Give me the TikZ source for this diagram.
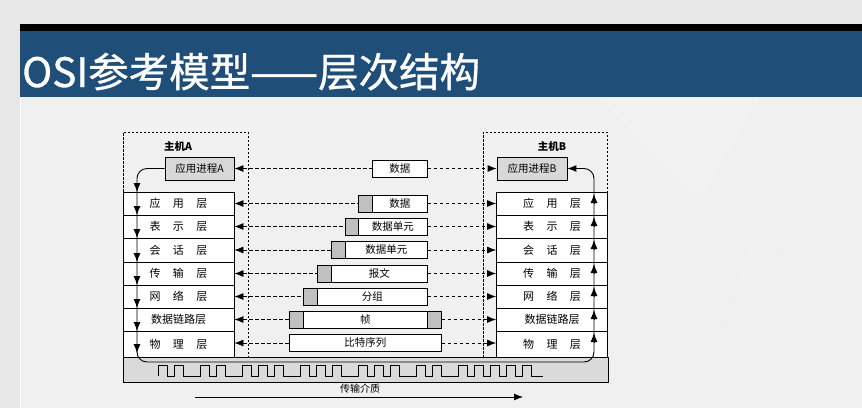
\documentclass[tikz,border=0pt]{standalone}
\usepackage{fontspec}
\setmainfont{Noto Sans CJK SC}
\newfontfamily\titlefont{Noto Sans CJK SC}[FakeBold=0.8]
\usetikzlibrary{arrows.meta}
\definecolor{barblue}{RGB}{31,78,121}
\definecolor{outerbg}{RGB}{231,231,231}
\definecolor{slidebg}{RGB}{240,240,240}
\definecolor{hdrgray}{RGB}{192,192,192}
\definecolor{appgray}{RGB}{216,216,216}
\definecolor{medgray}{RGB}{218,218,218}
\newcommand\lsp{\hspace{12.5pt}}
\begin{document}
\begin{tikzpicture}[x=1pt,y=-1pt,
  >={Latex[length=9pt,width=7pt]},
  lay/.style={draw, line width=0.8pt, fill=white, minimum width=111pt, inner sep=0pt, font=\fontsize{11}{12}\selectfont},
  appbox/.style={draw, line width=0.8pt, fill=appgray, minimum width=69pt, minimum height=23pt, inner sep=0pt, font=\fontsize{10.5}{12}\selectfont},
  hdr/.style={draw, line width=0.8pt, fill=hdrgray, minimum width=14pt, minimum height=17pt, inner sep=0pt, anchor=west},
  pdu/.style={draw, line width=0.8pt, fill=white, minimum height=17pt, inner sep=0pt, anchor=west, font=\fontsize{10.5}{12}\selectfont},
  hostbox/.style={draw, line width=0.8pt, dash pattern=on 2.5pt off 1.5pt, inner sep=0pt},
  dl/.style={line width=0.8pt, dash pattern=on 3.5pt off 2.5pt},
  flow/.style={line width=0.9pt},
  hosttitle/.style={font=\fontsize{10.5}{12}\selectfont\bfseries, inner sep=0pt}
]
\useasboundingbox (0,0) rectangle (862,408);
% background
\fill[outerbg] (0,0) rectangle (862,408);
\fill[black] (20,24) rectangle (862,31);
\fill[barblue] (20,31) rectangle (862,97);
\fill[slidebg] (20,97) rectangle (862,408);
\fill[white, opacity=0.18] (600,97) -- (700,200) -- (760,97) -- cycle;
\fill[white, opacity=0.12] (700,408) -- (760,220) -- (862,408) -- cycle;
\draw[white, line width=1pt] (20.5,97) -- (20.5,408);
% title
\node[anchor=base west, inner sep=0pt, text=white, font=\titlefont\fontsize{40.5}{41}\selectfont] (title) at (22,87) {OSI参考模型——层次结构};

% host frames
\node[hostbox, minimum width=125pt, minimum height=225pt] (hostA) at (185.5,244.5) {};
\node[hostbox, minimum width=124pt, minimum height=225pt] (hostB) at (545,244.5) {};
\node[hosttitle] (tA) at (178,146) {主机A};
\node[hosttitle] (tB) at (552,146) {主机B};

% transmission medium
\node[draw, line width=0.8pt, fill=medgray, minimum width=485pt, minimum height=25pt, inner sep=0pt] (med) at (365.5,369.5) {};

% application processes
\node[appbox] (appA) at (199.5,168.5) {应用进程A};
\node[appbox, minimum width=70pt] (appB) at (532,168.5) {应用进程B};

% layer stacks
\foreach \i/\y/\h/\t in {
  1/203.5/23/{应\lsp 用\lsp 层},
  2/226.5/23/{表\lsp 示\lsp 层},
  3/250/24/{会\lsp 话\lsp 层},
  4/273.5/23/{传\lsp 输\lsp 层},
  5/296.5/23/{网\lsp 络\lsp 层},
  6/319.5/23/{数据链路层},
  7/344/26/{物\lsp 理\lsp 层}} {
  \node[lay, minimum height=\h pt] (rowA\i) at (178.5,\y) {\t};
  \node[lay, minimum height=\h pt] (rowB\i) at (552,\y) {\t};
}

% PDUs
\node[pdu, minimum width=55pt] (d0) at (372,168.5) {数据};
\node[hdr] (h1) at (358,203.5) {};
\node[pdu, minimum width=55pt] (b1) at (372,203.5) {数据};
\node[hdr, minimum width=13pt] (h2) at (345,226.5) {};
\node[pdu, minimum width=69pt] (b2) at (358,226.5) {数据单元};
\node[hdr] (h3) at (331,250) {};
\node[pdu, minimum width=82pt] (b3) at (345,250) {数据单元};
\node[hdr] (h4) at (317,273.5) {};
\node[pdu, minimum width=96pt] (b4) at (331,273.5) {报文};
\node[hdr] (h5) at (303,296.5) {};
\node[pdu, minimum width=110pt] (b5) at (317,296.5) {分组};
\node[hdr] (h6) at (289,319.5) {};
\node[pdu, minimum width=124pt] (b6) at (303,319.5) {帧};
\node[hdr] (t6) at (427,319.5) {};
\node[pdu, minimum width=152pt] (b7) at (289,343) {比特序列};

% peer dashed connectors
\draw[dl,<-] (appA.east) -- (d0.west);
\draw[dl,->] (d0.east) -- (appB.west);
\draw[dl,<-] (rowA1.east) -- (h1.west);
\draw[dl,->] (b1.east) -- (rowB1.west);
\draw[dl,<-] (rowA2.east) -- (h2.west);
\draw[dl,->] (b2.east) -- (rowB2.west);
\draw[dl,<-] (rowA3.east) -- (h3.west);
\draw[dl,->] (b3.east) -- (rowB3.west);
\draw[dl,<-] (rowA4.east) -- (h4.west);
\draw[dl,->] (b4.east) -- (rowB4.west);
\draw[dl,<-] (rowA5.east) -- (h5.west);
\draw[dl,->] (b5.east) -- (rowB5.west);
\draw[dl,<-] (rowA6.east) -- (h6.west);
\draw[dl,->] (t6.east) -- (rowB6.west);
\draw[dl,<-] (rowA7.east |- b7.west) -- (b7.west);
\draw[dl,->] (b7.east) -- (rowB7.west |- b7.east);

% data flow path
\coordinate (cA) at (137,362);
\coordinate (cB) at (594,168.5);
\draw[flow, rounded corners=10pt, ->] (appA.west) -| (cA) -| (cB) -- (appB.east);
\foreach \t in {192,215,238,262,285,308,331,353}
  \draw[flow, ->] (137,\t-9) -- (137,\t);
\foreach \t in {194,217,240,264,287,310,333}
  \draw[flow, ->] (594,\t+9) -- (594,\t);

% signal waveform
\draw[line width=0.8pt] (158,376)
  \foreach \p in {158,174,200,216,242,258,274,300,316,332,358,374,390,416,432,458,474,490,506,522} {
    -- (\p,376) -- (\p,365) -- (\p+9,365) -- (\p+9,376)
  } -- (543,376);

% medium label and arrow
\node[inner sep=0pt, font=\fontsize{10}{12}\selectfont] (medlabel) at (360,389) {传输介质};
\coordinate (m1) at (195,397);
\coordinate (m2) at (523,397);
\draw[line width=0.8pt, ->] (m1) -- (m2);
\end{tikzpicture}
\end{document}
